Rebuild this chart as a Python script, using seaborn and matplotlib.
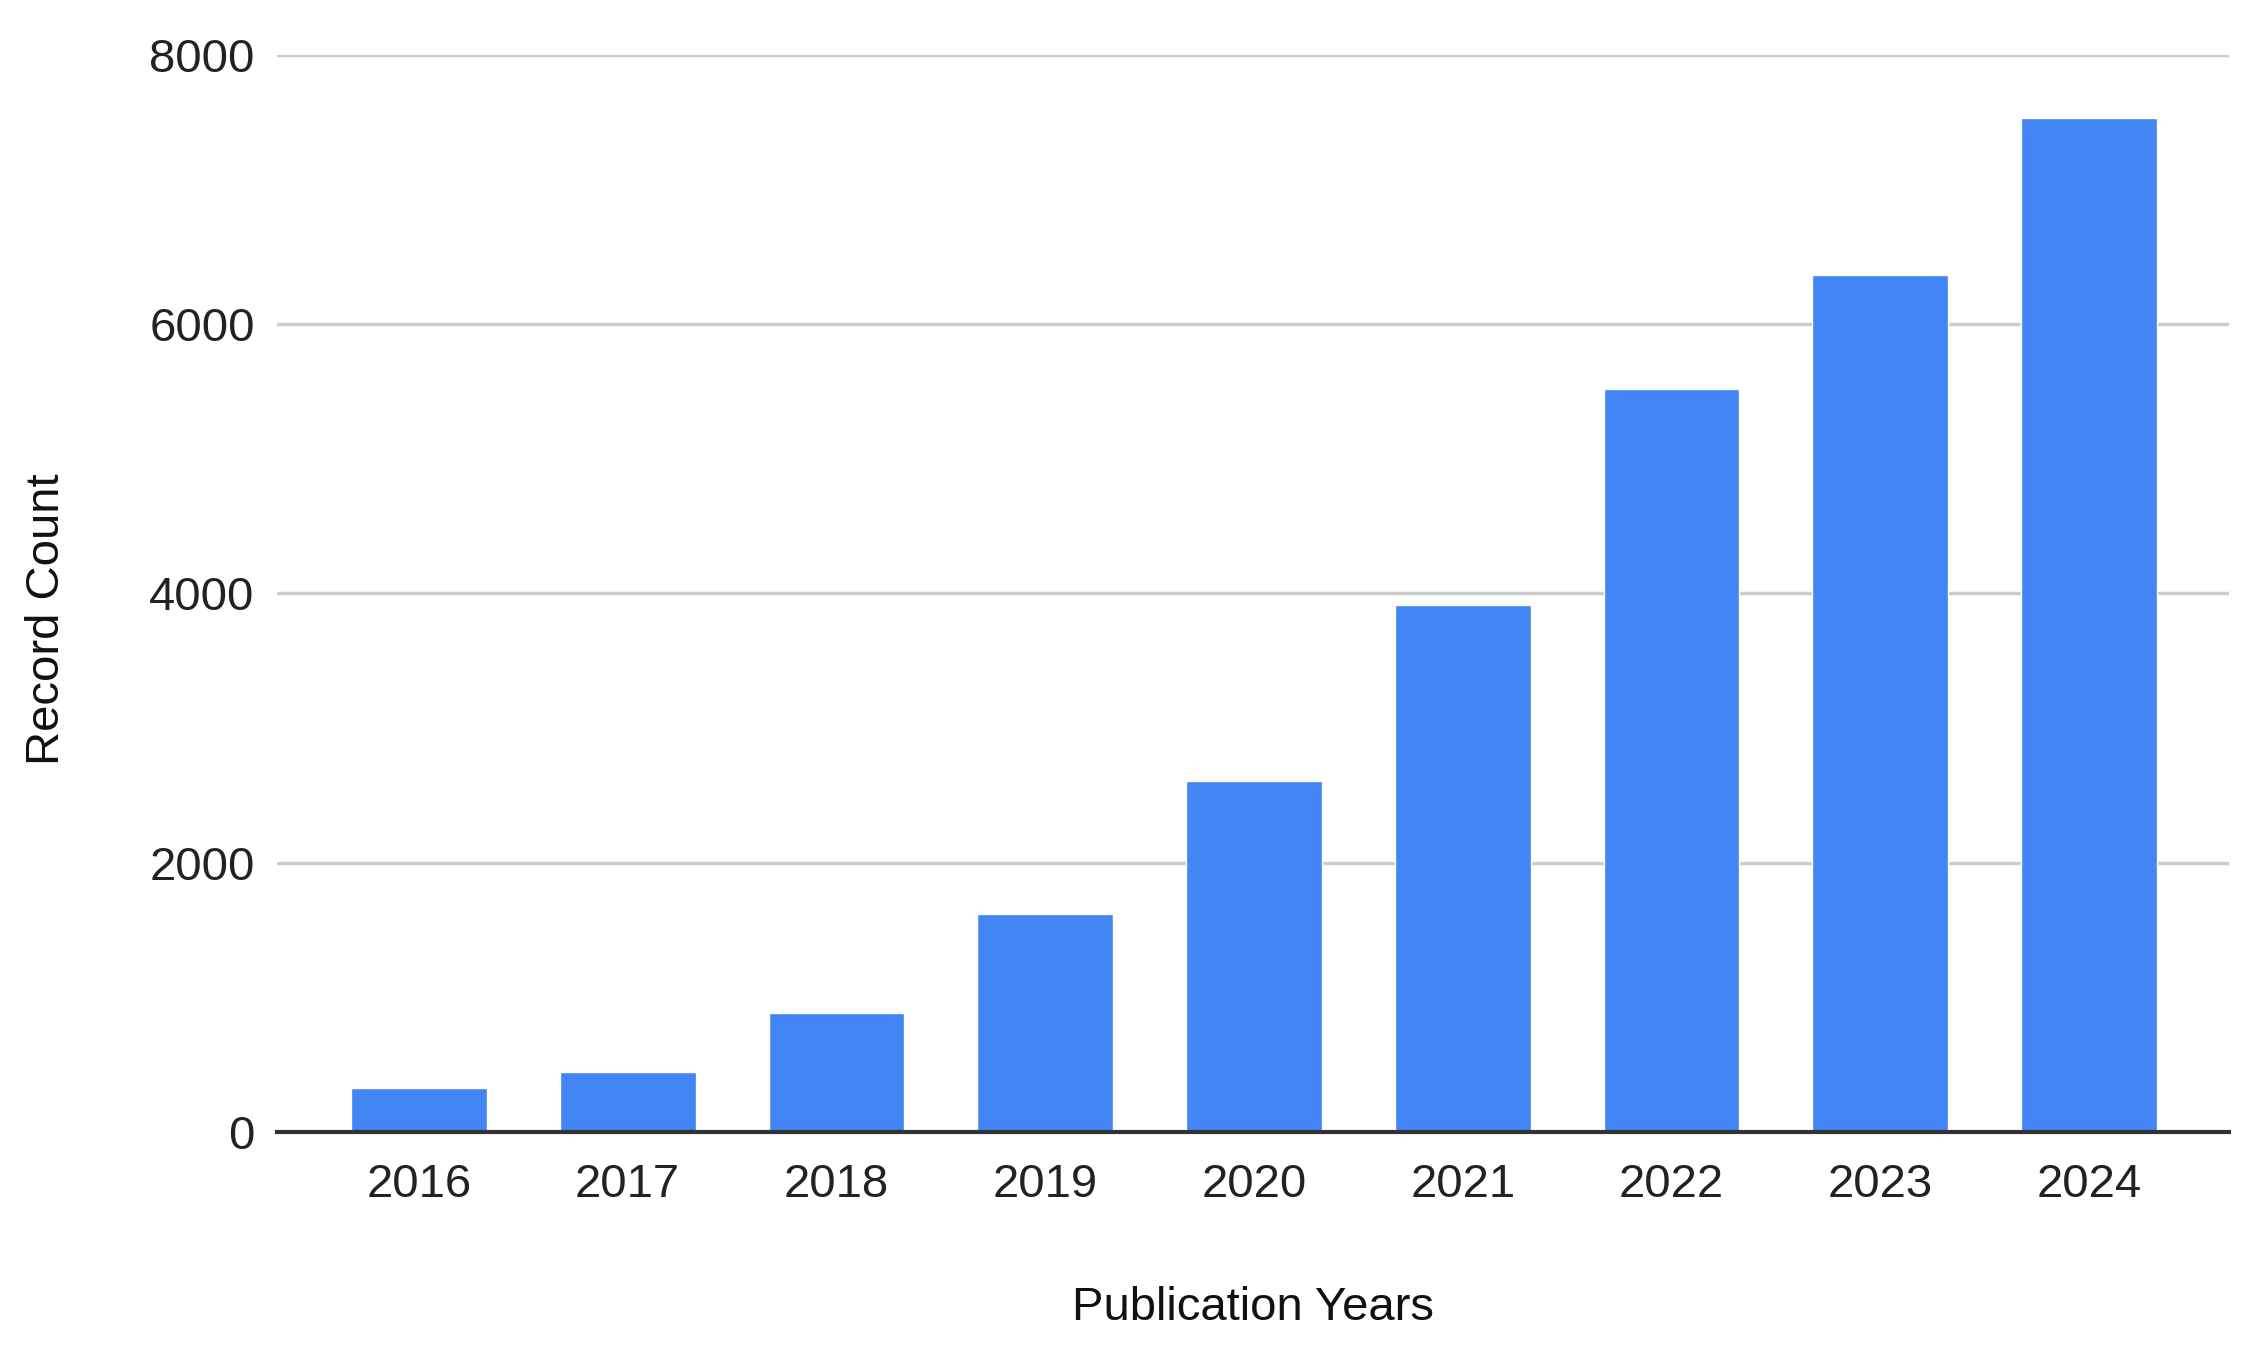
import numpy as np
import pandas as pd
import seaborn as sns
import matplotlib.pyplot as plt

# publication years and record counts
years = ["2016", "2017", "2018", "2019", "2020", "2021", "2022", "2023", "2024"]
counts = [326, 446, 883, 1620, 2605, 3915, 5520, 6362, 7530]
y_ticks = [0, 2000, 4000, 6000, 8000]

df = pd.DataFrame({"year": years, "count": counts})

sns.set_style("white")
plt.rcParams["font.family"] = ["Liberation Sans", "DejaVu Sans"]

fig = plt.figure(figsize=(22.48, 13.5), dpi=100)
ax = fig.add_axes([0.1232, 0.1615, 0.8683, 0.7981])

sns.barplot(data=df, x="year", y="count", color="#4285F4", saturation=1,
            width=0.65, ax=ax, zorder=3)

ax.set_ylim(0, 8000)
ax.set_xlim(-0.68, 8.67)
ax.set_yticks(y_ticks)
ax.grid(axis="y", color="#cccccc", linewidth=2.5, zorder=0)
ax.grid(axis="x", visible=False)

for s in ["top", "right", "left"]:
    ax.spines[s].set_visible(False)
ax.spines["bottom"].set_color("#333333")
ax.spines["bottom"].set_linewidth(3)
ax.spines["bottom"].set_zorder(4)

ax.tick_params(axis="both", length=0, labelsize=34, colors="#222222")
ax.tick_params(axis="x", pad=22)
ax.tick_params(axis="y", pad=16)

ax.set_xlabel("Publication Years", fontsize=34, color="#111111", va="center")
ax.set_ylabel("Record Count", fontsize=34, color="#111111", va="center")
ax.xaxis.set_label_coords(0.5, -0.163)
ax.yaxis.set_label_coords(-0.118, 0.476)

fig.savefig("out.png", dpi=100, facecolor="white")
